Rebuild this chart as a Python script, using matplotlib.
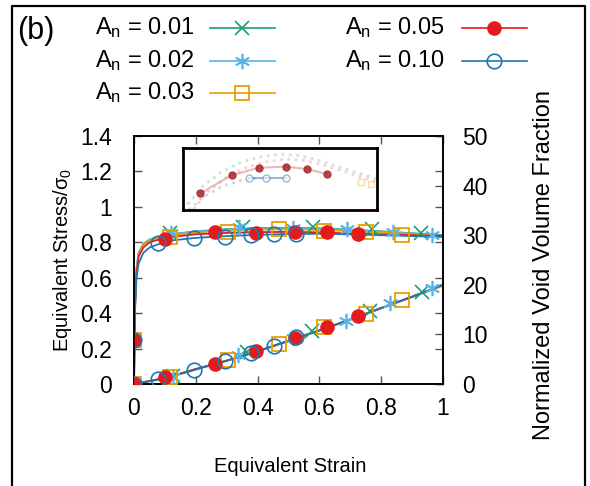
"""
Equivalent stress and void volume fraction vs. equivalent strain, panel (b)
"""

import matplotlib
matplotlib.use('Agg')
import matplotlib.pyplot as plt
from matplotlib.lines import Line2D
from matplotlib.ticker import FormatStrFormatter, MultipleLocator

plt.rcParams['font.family'] = ['Liberation Sans', 'DejaVu Sans']
plt.rcParams['mathtext.fontset'] = 'custom'
plt.rcParams['mathtext.rm'] = 'Liberation Sans'
plt.rcParams['mathtext.it'] = 'Liberation Sans:italic'

# series definitions
labels = ['0.01', '0.02', '0.03', '0.05', '0.10']
colors = ['#1a9e77', '#56b4e9', '#e69f00', '#e41a1c', '#1f77b4']
markers = ['x', '*', 's', 'o', 'o']

# curve strain grid (stress)
curve_strain = [0, 0.003, 0.008, 0.015, 0.03, 0.05, 0.08, 0.12, 0.2, 0.3,
                0.4, 0.5, 0.6, 0.7, 0.8, 0.9, 1.0]
stress_curves = [
    [0, 0.45, 0.65, 0.74, 0.79, 0.815, 0.83, 0.845, 0.862, 0.874, 0.88, 0.882, 0.879, 0.872, 0.862, 0.851, 0.84],
    [0, 0.45, 0.65, 0.74, 0.79, 0.815, 0.83, 0.845, 0.86, 0.872, 0.878, 0.88, 0.877, 0.87, 0.86, 0.85, 0.838],
    [0, 0.44, 0.64, 0.73, 0.785, 0.81, 0.825, 0.84, 0.855, 0.866, 0.872, 0.873, 0.87, 0.864, 0.855, 0.846, 0.836],
    [0, 0.42, 0.62, 0.72, 0.77, 0.80, 0.815, 0.83, 0.845, 0.853, 0.857, 0.859, 0.856, 0.85, 0.845, 0.84, 0.835],
    [0, 0.40, 0.60, 0.68, 0.74, 0.77, 0.79, 0.81, 0.825, 0.835, 0.842, 0.847, 0.848, 0.845, 0.84, 0.835, 0.83],
]

# void volume fraction curve (right axis)
void_strain = [0, 0.1, 0.2, 0.3, 0.4, 0.5, 0.6, 0.7, 0.8, 0.9, 1.0]
void_curves = [
    [0, 1.2, 3.0, 4.7, 6.6, 8.7, 10.8, 13.0, 15.3, 17.6, 20.0],
    [0, 1.2, 3.0, 4.7, 6.6, 8.7, 10.8, 13.0, 15.3, 17.6, 20.0],
    [0, 1.2, 3.0, 4.7, 6.6, 8.7, 10.8, 13.0, 15.3, 17.5, 19.8],
    [0, 1.2, 3.0, 4.7, 6.6, 8.7, 10.8, 13.0, 15.3, 17.6, 20.0],
    [0, 1.1, 2.9, 4.7, 6.6, 8.7, 10.8, 13.0, 15.3, 17.6, 20.0],
]

# marker points
stress_mx = [
    [0.117, 0.354, 0.58, 0.769, 0.93],
    [0.12, 0.34, 0.515, 0.688, 0.837, 0.963],
    [0, 0.117, 0.303, 0.469, 0.615, 0.75, 0.868],
    [0, 0.10, 0.262, 0.395, 0.521, 0.625, 0.726],
    [0, 0.079, 0.194, 0.294, 0.379, 0.454, 0.523],
]
stress_my = [
    [0.851, 0.888, 0.885, 0.873, 0.85],
    [0.85, 0.885, 0.883, 0.873, 0.86, 0.84],
    [0.25, 0.828, 0.86, 0.873, 0.866, 0.857, 0.841],
    [0.25, 0.817, 0.856, 0.854, 0.86, 0.856, 0.849],
    [0.25, 0.794, 0.823, 0.832, 0.84, 0.847, 0.847],
]
void_mx = [
    [0.127, 0.365, 0.577, 0.764, 0.931],
    [0.127, 0.337, 0.515, 0.686, 0.828, 0.963],
    [0, 0.117, 0.303, 0.469, 0.615, 0.75, 0.868],
    [0, 0.10, 0.262, 0.395, 0.521, 0.625, 0.726],
    [0, 0.079, 0.194, 0.294, 0.379, 0.454, 0.523],
]
void_my = [
    [1.6, 6.5, 10.7, 14.7, 18.6],
    [1.5, 5.8, 9.2, 12.8, 16.3, 19.4],
    [0, 1.5, 4.8, 8.1, 11.4, 14.1, 16.9],
    [0, 1.5, 4.0, 6.65, 9.2, 11.4, 13.7],
    [0, 1.0, 2.8, 4.7, 6.2, 7.7, 9.4],
]

# inset (blurred zoom image) contents, normalised inset coords
inset_red_x = [0.09, 0.25, 0.39, 0.53, 0.64, 0.74]
inset_red_y = [0.27, 0.56, 0.68, 0.70, 0.66, 0.58]
inset_blue_x = [0.34, 0.43, 0.53]
inset_blue_y = [0.52, 0.52, 0.52]
inset_arc_x = [0.0, 0.1, 0.2, 0.3, 0.4, 0.5, 0.6, 0.7, 0.8, 0.9, 1.0]
inset_arc_y = [0.0, 0.38, 0.62, 0.77, 0.86, 0.9, 0.88, 0.8, 0.7, 0.6, 0.5]
inset_low_x = [0.03, 0.1, 0.2, 0.3, 0.4]
inset_low_y = [0.0, 0.2, 0.38, 0.48, 0.52]

TICK_FS = 16.5
LABEL_FS = 14.5
LEG_FS = 17


def mstyle(i):
    m = dict(marker=markers[i], color=colors[i], linestyle='none')
    if i == 0:
        m.update(markersize=10, markeredgewidth=1.2)
    elif i == 1:
        m.update(marker=(6, 2, 0), markersize=11, markeredgewidth=1.2)
    elif i == 2:
        m.update(markersize=10, markerfacecolor='none', markeredgewidth=1.3)
    elif i == 3:
        m.update(markersize=10.5, markeredgewidth=0)
    else:
        m.update(markersize=10.5, markerfacecolor='none', markeredgewidth=1.2)
    return m


fig = plt.figure(figsize=(5.9, 4.86), dpi=100)
ax = fig.add_axes([134 / 590, 102 / 486, 309 / 590, 248 / 486])
ax2 = ax.twinx()

for i in range(5):
    ax.plot(curve_strain, stress_curves[i], color=colors[i], lw=1.3, zorder=2)
    ax2.plot(void_strain, void_curves[i], color=colors[i], lw=1.3, zorder=2)
for i in range(5):
    ax.plot(stress_mx[i], stress_my[i], zorder=3, **mstyle(i))
    ax2.plot(void_mx[i], void_my[i], zorder=3, **mstyle(i))

ax.set_xlim(0, 1)
ax.set_ylim(0, 1.4)
ax2.set_ylim(0, 50)
ax.xaxis.set_major_locator(MultipleLocator(0.2))
ax.yaxis.set_major_locator(MultipleLocator(0.2))
ax2.yaxis.set_major_locator(MultipleLocator(10))
ax.xaxis.set_major_formatter(FormatStrFormatter('%g'))
ax.yaxis.set_major_formatter(FormatStrFormatter('%g'))
ax.tick_params(direction='in', top=True, right=True, length=6, width=1,
               color='#555555', labelsize=TICK_FS, pad=16)
ax.tick_params(axis='x', pad=9)
ax2.tick_params(direction='in', length=6, width=1, color='#555555',
                labelsize=TICK_FS, pad=14)
for a in (ax, ax2):
    for s in a.spines.values():
        s.set_linewidth(1.2)

ax.set_xlabel('Equivalent Strain', fontsize=LABEL_FS)
ax.xaxis.set_label_coords(0.505, -0.295)
ax.set_ylabel('Equivalent Stress/σ$_0$', fontsize=LABEL_FS)
ax.yaxis.set_label_coords(-0.195, 0.5)
ax2.set_ylabel('Normalized Void Volume Fraction', fontsize=LEG_FS)
ax2.yaxis.set_label_coords(1.29, 0.48)

# inset
axi = fig.add_axes([183 / 590, 276 / 486, 194 / 590, 62 / 486])
axi.set_xlim(0, 1)
axi.set_ylim(0, 1)
axi.set_xticks([])
axi.set_yticks([])
for s in axi.spines.values():
    s.set_linewidth(2)
axi.plot(inset_arc_x, inset_arc_y, color='#7fd6c0', lw=2, ls=':', alpha=0.5)
axi.plot([x + 0.03 for x in inset_arc_x], [y - 0.08 for y in inset_arc_y],
         color='#f2a0a0', lw=2, ls=':', alpha=0.5)
axi.plot(inset_low_x, inset_low_y, color='#bbbbbb', lw=2, ls=':', alpha=0.6)
axi.plot(inset_red_x, inset_red_y, color='#e58a8a', lw=1.5, alpha=0.6)
axi.plot(inset_red_x, inset_red_y, 'o', color='#a8282e', ms=5, alpha=0.85)
axi.plot(inset_blue_x, inset_blue_y, color='#4f8fc0', lw=1.5, alpha=0.6)
axi.plot(inset_blue_x, inset_blue_y, 'o', color='#4f8fc0', ms=5,
         mfc='white', alpha=0.6)
axi.plot([0.92, 0.97], [0.45, 0.42], 's', color='#f0c070', ms=5,
         mfc='none', alpha=0.6)

# legend (two columns, label left of handle)
leg_pos = [(95, 28), (95, 61), (95, 93), (345, 28), (345, 61)]
hx_start = [210, 210, 210, 462, 462]
for i, (lx, ly) in enumerate(leg_pos):
    fig.text(lx / 590, 1 - ly / 486, 'A$_\\mathrm{n}$ = ' + labels[i],
             fontsize=LEG_FS, va='center', ha='left')
    hx0 = hx_start[i]
    fig.add_artist(Line2D([hx0 / 590, (hx0 + 65) / 590],
                          [1 - ly / 486, 1 - ly / 486],
                          color=colors[i], lw=1.2))
    st = mstyle(i)
    fig.add_artist(Line2D([(hx0 + 32) / 590], [1 - ly / 486], **st))

fig.text(17 / 590, 1 - 31 / 486, '(b)', fontsize=22, va='center', ha='left')

# outer frame
fig.add_artist(Line2D([11.5 / 590, 11.5 / 590, 585 / 590, 585 / 590],
                      [0, 1 - 6 / 486, 1 - 6 / 486, 0],
                      color='black', lw=1.6))

fig.savefig('out.png', dpi=100)
